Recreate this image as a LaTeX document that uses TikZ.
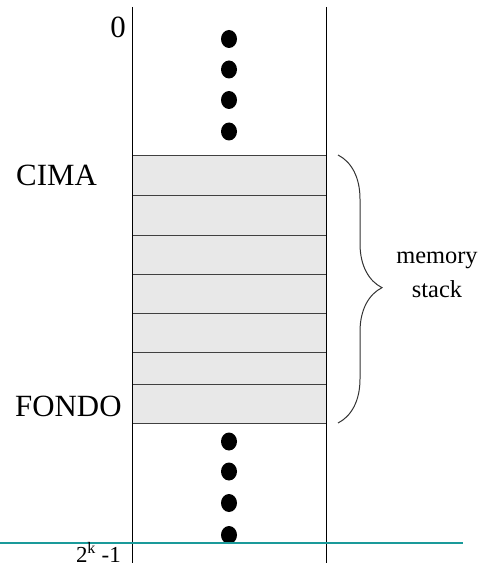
\documentclass[tikz,border=0pt]{standalone}
\usepackage{fontspec}
\setmainfont{Liberation Serif}
\usetikzlibrary{decorations.pathreplacing}
\definecolor{cellfill}{HTML}{E8E8E8}
\definecolor{teal2}{HTML}{1A9A9A}
\begin{document}
\begin{tikzpicture}[x=1bp,y=-1bp,
  dotmark/.style={fill=black,draw=none},
  cell/.style={fill=cellfill,draw=black!75,line width=1pt},
  lbl/.style={inner sep=0pt,font=\fontsize{31}{31}\selectfont},
  edge/.style={draw=black,line width=1pt}]
\useasboundingbox (0,0) rectangle (481,567);
% cells
\foreach \a/\b in {155/195,195/235,235/274,274/313,313/352,352/384,384/423}
  \draw[cell] (132.5,\a) rectangle (326,\b);
% vertical lines
\coordinate (lt) at (132.5,7);
\coordinate (lb) at (132.5,563);
\coordinate (rt) at (326,7);
\coordinate (rb) at (326,563);
\draw[edge] (lt) -- (lb);
\draw[edge] (rt) -- (rb);
% dots
\foreach \y in {39,69.5,100,131.5,441.5,471.5,503,535}
  \fill[dotmark] (229,\y) ellipse (8 and 9);
% teal line
\coordinate (tl) at (0,542.5);
\coordinate (tr) at (463,542.5);
\draw[teal2,line width=2pt] (tl) -- (tr);
% labels
\node[lbl,anchor=east] (zero) at (126,27) {0};
\node[lbl,anchor=west] (cima) at (16,175) {CIMA};
\node[lbl,anchor=west] (fondo) at (15,406) {FONDO};
\node[inner sep=0pt,anchor=east,font=\fontsize{23}{23}\selectfont] (last) at (121,552.5) {2\textsuperscript{k} -1};
\node[align=center,inner sep=0pt,font=\fontsize{24.5}{34}\selectfont] (ms) at (437,275) {memory\\stack};
% brace
\coordinate (bt) at (338,155);
\coordinate (bb) at (338,423);
\draw[black!80,line width=1pt,decorate,decoration={brace,amplitude=44bp,aspect=0.495}] (bt) -- (bb);
\end{tikzpicture}
\end{document}
